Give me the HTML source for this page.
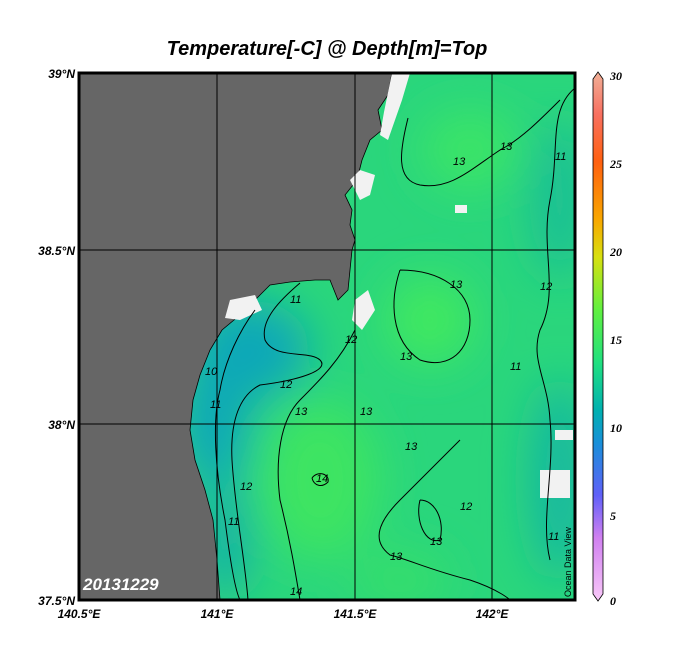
<!DOCTYPE html>
<html><head><meta charset="utf-8"><style>
body{margin:0;background:#fff;width:684px;height:660px;overflow:hidden}
svg{display:block}
.t{font-family:"Liberation Sans",sans-serif;font-weight:bold;font-style:italic;font-size:12px;fill:#000}
.c{font-family:"Liberation Sans",sans-serif;font-style:italic;font-size:11px;fill:#000}
</style></head><body>
<svg width="684" height="660" viewBox="0 0 684 660">
<defs>
<filter id="b" x="-50%" y="-50%" width="200%" height="200%"><feGaussianBlur stdDeviation="22"/></filter>
<clipPath id="cp"><rect x="79" y="73" width="496" height="527"/></clipPath>
<linearGradient id="cb" x1="0" y1="1" x2="0" y2="0">
<stop offset="0" stop-color="#f8c8f8"/><stop offset="0.12" stop-color="#d080f0"/>
<stop offset="0.2" stop-color="#6060f8"/><stop offset="0.3" stop-color="#1890d8"/>
<stop offset="0.36" stop-color="#00b0b0"/><stop offset="0.45" stop-color="#20e080"/>
<stop offset="0.55" stop-color="#60f040"/><stop offset="0.65" stop-color="#d8e010"/>
<stop offset="0.72" stop-color="#f8a800"/><stop offset="0.83" stop-color="#ff6010"/>
<stop offset="0.92" stop-color="#f87060"/><stop offset="1" stop-color="#f0b098"/>
</linearGradient>
</defs>
<text x="327" y="55" text-anchor="middle" style="font-family:'Liberation Sans',sans-serif;font-weight:bold;font-style:italic;font-size:20px">Temperature[-C] @ Depth[m]=Top</text>
<g clip-path="url(#cp)">
<rect x="79" y="73" width="496" height="527" fill="#2ad67c"/>
<g filter="url(#b)">
<ellipse cx="250" cy="350" rx="60" ry="50" fill="#10a8b8"/>
<ellipse cx="215" cy="420" rx="35" ry="70" fill="#10a8b8"/>
<ellipse cx="225" cy="540" rx="25" ry="60" fill="#18b0a8"/>
<ellipse cx="430" cy="320" rx="45" ry="45" fill="#40e860"/>
<ellipse cx="320" cy="480" rx="60" ry="80" fill="#3ee462"/>
<ellipse cx="470" cy="150" rx="50" ry="40" fill="#3ae468"/>
<ellipse cx="560" cy="200" rx="30" ry="80" fill="#1cc094"/>
<ellipse cx="560" cy="480" rx="30" ry="100" fill="#18b8a0"/>
<ellipse cx="400" cy="580" rx="50" ry="30" fill="#34de6c"/>
</g>
<path d="M79,73 L392,73 388,95 378,110 382,130 370,140 362,160 357,180 345,195 352,210 350,225 355,240 352,250 350,270 348,290 338,300 330,280 315,280 290,282 270,285 255,300 240,315 222,330 210,350 200,375 193,400 190,430 195,460 205,490 213,520 217,560 220,600 79,600Z" fill="#666" stroke="#000" stroke-width="0.8"/>
<path d="M392,73 L410,73 402,100 395,120 388,140 380,135 384,112 Z" fill="#f2f2f2"/>
<path d="M350,180 L360,170 375,175 370,195 360,200 Z M355,300 L368,290 375,310 362,330 352,320Z M230,300 L255,295 262,310 240,320 225,318Z" fill="#f2f2f2"/>
<rect x="455" y="205" width="12" height="8" fill="#f2f2f2"/>
<rect x="540" y="470" width="30" height="28" fill="#f2f2f2"/>
<rect x="555" y="430" width="18" height="10" fill="#f2f2f2"/>
<g fill="none" stroke="#000" stroke-width="1">
<path d="M575,88 C548,110 560,150 550,200 C540,250 560,290 540,330 C530,360 548,380 550,420 C555,470 540,520 550,560"/>
<path d="M408,118 C400,150 395,180 420,185 C450,190 470,170 500,150 C520,140 540,120 560,100"/>
<path d="M400,270 C390,300 390,340 420,360 C450,370 470,350 470,320 C470,290 440,270 400,270"/>
<path d="M300,283 C280,300 260,320 265,340 C275,360 310,350 320,360 C330,370 300,380 260,385 C240,395 230,420 232,460 C235,510 245,560 248,600"/>
<path d="M255,310 C240,330 225,360 220,390 C212,420 215,470 225,520 C230,560 235,590 240,600"/>
<path d="M355,330 C340,360 320,380 300,400 C280,420 275,460 280,500 C290,540 295,570 300,600"/>
<path d="M460,440 C440,460 420,480 400,500 C380,520 370,540 390,555 C410,560 430,570 470,580 C500,590 510,600 510,600"/>
<path d="M420,500 C415,520 425,545 440,540 C445,520 435,500 420,500"/>
<path d="M312,478 C318,470 330,474 328,482 C322,488 314,486 312,478"/>
</g>
<g stroke="#000" stroke-width="1">
<line x1="217" y1="73" x2="217" y2="600"/><line x1="355" y1="73" x2="355" y2="600"/><line x1="492" y1="73" x2="492" y2="600"/>
<line x1="79" y1="250" x2="575" y2="250"/><line x1="79" y1="424" x2="575" y2="424"/>
</g>
<g class="c">
<text x="453" y="165">13</text><text x="500" y="150">13</text><text x="555" y="160">11</text>
<text x="450" y="288">13</text><text x="400" y="360">13</text><text x="540" y="290">12</text>
<text x="290" y="303">11</text><text x="345" y="343">12</text><text x="280" y="388">12</text>
<text x="295" y="415">13</text><text x="360" y="415">13</text><text x="405" y="450">13</text>
<text x="205" y="375">10</text><text x="210" y="408">11</text><text x="316" y="482">14</text>
<text x="240" y="490">12</text><text x="228" y="525">11</text><text x="460" y="510">12</text>
<text x="390" y="560">13</text><text x="430" y="545">13</text><text x="510" y="370">11</text>
<text x="548" y="540">11</text><text x="290" y="595">14</text>
</g>
<text x="83" y="590" style="font-family:'Liberation Sans',sans-serif;font-weight:bold;font-style:italic;font-size:17px;fill:#fff">20131229</text>
<text transform="translate(571,597) rotate(-90)" style="font-family:'Liberation Sans',sans-serif;font-size:9px;fill:#000">Ocean Data View</text>
</g>
<rect x="79" y="73" width="496" height="527" fill="none" stroke="#000" stroke-width="3"/>
<g class="t">
<text x="75" y="78" text-anchor="end">39°N</text>
<text x="75" y="255" text-anchor="end">38.5°N</text>
<text x="75" y="429" text-anchor="end">38°N</text>
<text x="75" y="605" text-anchor="end">37.5°N</text>
<text x="79" y="618" text-anchor="middle">140.5°E</text>
<text x="217" y="618" text-anchor="middle">141°E</text>
<text x="355" y="618" text-anchor="middle">141.5°E</text>
<text x="492" y="618" text-anchor="middle">142°E</text>
</g>
<path d="M593,79 L598,72 603,79 L603,594 598,601 593,594Z" fill="url(#cb)" stroke="#000" stroke-width="0.8"/>
<g style="font-family:'Liberation Serif',serif;font-weight:bold;font-style:italic;font-size:12px">
<text x="610" y="80">30</text><text x="610" y="168">25</text><text x="610" y="256">20</text>
<text x="610" y="344">15</text><text x="610" y="432">10</text><text x="610" y="520">5</text><text x="610" y="605">0</text>
</g>
</svg>
</body></html>
